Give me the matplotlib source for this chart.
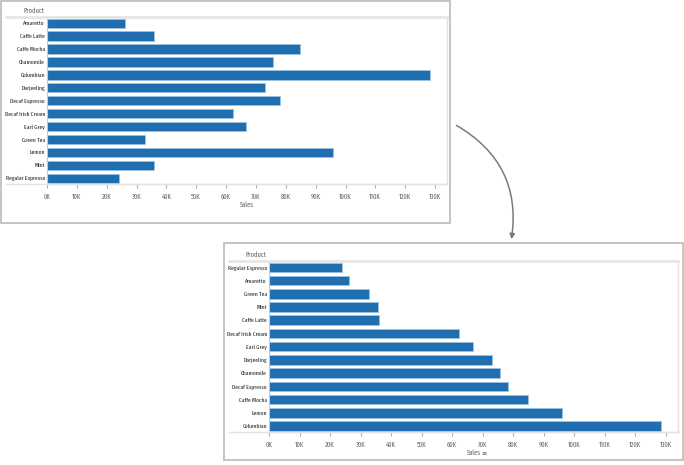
import matplotlib
matplotlib.use('Agg')
import matplotlib.pyplot as plt
from matplotlib.patches import Rectangle, FancyArrowPatch
from matplotlib.lines import Line2D
from matplotlib.ticker import FuncFormatter

# coffee sales by product (alphabetical, as in the first view)
products = ['Amaretto', 'Caffe Latte', 'Caffe Mocha', 'Chamomile', 'Columbian',
            'Darjeeling', 'Decaf Espresso', 'Decaf Irish Cream', 'Earl Grey',
            'Green Tea', 'Lemon', 'Mint', 'Regular Espresso']
sales = [26269, 35899, 84904, 75578, 128311, 73151, 78162, 62248, 66772,
         32850, 95926, 35710, 24031]
x_ticks = [0, 10000, 20000, 30000, 40000, 50000, 60000, 70000, 80000,
           90000, 100000, 110000, 120000, 130000]

W, H = 684, 465
FONT = ['Fira Sans Extra Condensed', 'DejaVu Sans']
plt.rcParams['font.family'] = FONT

fig = plt.figure(figsize=(W / 100, H / 100), dpi=100)


def box(x0, y0, x1, y1):
    # pixel box (top-left origin) -> figure fraction rect
    return [x0 / W, 1 - y1 / H, (x1 - x0) / W, (y1 - y0) / H]


def fx(x):
    return x / W


def fy(y):
    return 1 - y / H


def draw_panel(names, values, plot_px, panel_px, head_y, sales_y, sort_icon):
    x0, y0, x1, y1 = plot_px
    ax = fig.add_axes(box(x0, y0, x1, y1))
    ax.barh(range(len(names)), values, height=0.72, color='#1f6fb0',
            edgecolor='#9cc3e4', linewidth=0.6)
    ax.set_xlim(0, 134000)
    ax.set_ylim(len(names) - 0.55, -0.48)
    ax.set_yticks(range(len(names)))
    ax.set_yticklabels(names, fontsize=4.4, color='#1e1e1e')
    ax.set_xticks(x_ticks)
    ax.xaxis.set_major_formatter(FuncFormatter(lambda v, p: '%dK' % (v / 1000)))
    ax.tick_params(axis='x', labelsize=5.1, colors='#999999', length=3,
                   width=0.6, pad=4)
    ax.tick_params(axis='x', labelcolor='#666666')
    ax.tick_params(axis='y', length=0, pad=1.5)
    for s in ['top', 'right', 'bottom']:
        ax.spines[s].set_color('#e3e3e3')
        ax.spines[s].set_linewidth(1.0)
    ax.spines['left'].set_color('#c8c8c8')
    ax.spines['left'].set_linewidth(0.8)
    ax.spines['top'].set_visible(False)

    px0, py0, px1, py1 = panel_px
    # header separator and bottom line spanning the label area
    fig.add_artist(Line2D([fx(px0 + 5), fx(x1)], [fy(y0), fy(y0)],
                          color='#e6e6e6', lw=2.0))
    fig.add_artist(Line2D([fx(px0 + 5), fx(x1)], [fy(y1), fy(y1)],
                          color='#e3e3e3', lw=1.0))
    fig.text(fx(x0 - 2), fy(head_y), 'Product', ha='right', va='center',
             fontsize=5.1, color='#666666')
    cx = (x0 + x1) / 2
    fig.text(fx(cx), fy(sales_y), 'Sales', ha='center', va='center',
             fontsize=5.1, color='#666666')
    if sort_icon:
        fig.text(fx(cx + 8), fy(sales_y), '\u2261', ha='left', va='center',
                 fontsize=4.5, color='#555555', family='DejaVu Sans')
    fig.add_artist(Rectangle((fx(px0), fy(py1)), fx(px1) - fx(px0),
                             fy(py0) - fy(py1), transform=fig.transFigure,
                             fill=False, edgecolor='#c4c4c4', lw=1.4))
    return ax


# before: alphabetical order
draw_panel(products, sales, (47, 17, 447, 184), (1, 1, 450, 223), 11, 205, False)

# after: sorted ascending by sales
order = sorted(range(len(products)), key=lambda i: sales[i])
draw_panel([products[i] for i in order], [sales[i] for i in order],
           (269, 261, 678, 432), (224, 243, 683, 460), 255, 453, True)

# curved arrow from the first view to the sorted one
arrow = FancyArrowPatch((fx(454), fy(124)), (fx(511), fy(242)),
                        transform=fig.transFigure,
                        connectionstyle='arc3,rad=-0.35',
                        arrowstyle='-|>,head_length=3,head_width=1.5',
                        color='#7a7a7a', lw=1.1)
fig.add_artist(arrow)

fig.savefig('out.png', dpi=100, facecolor='white')
